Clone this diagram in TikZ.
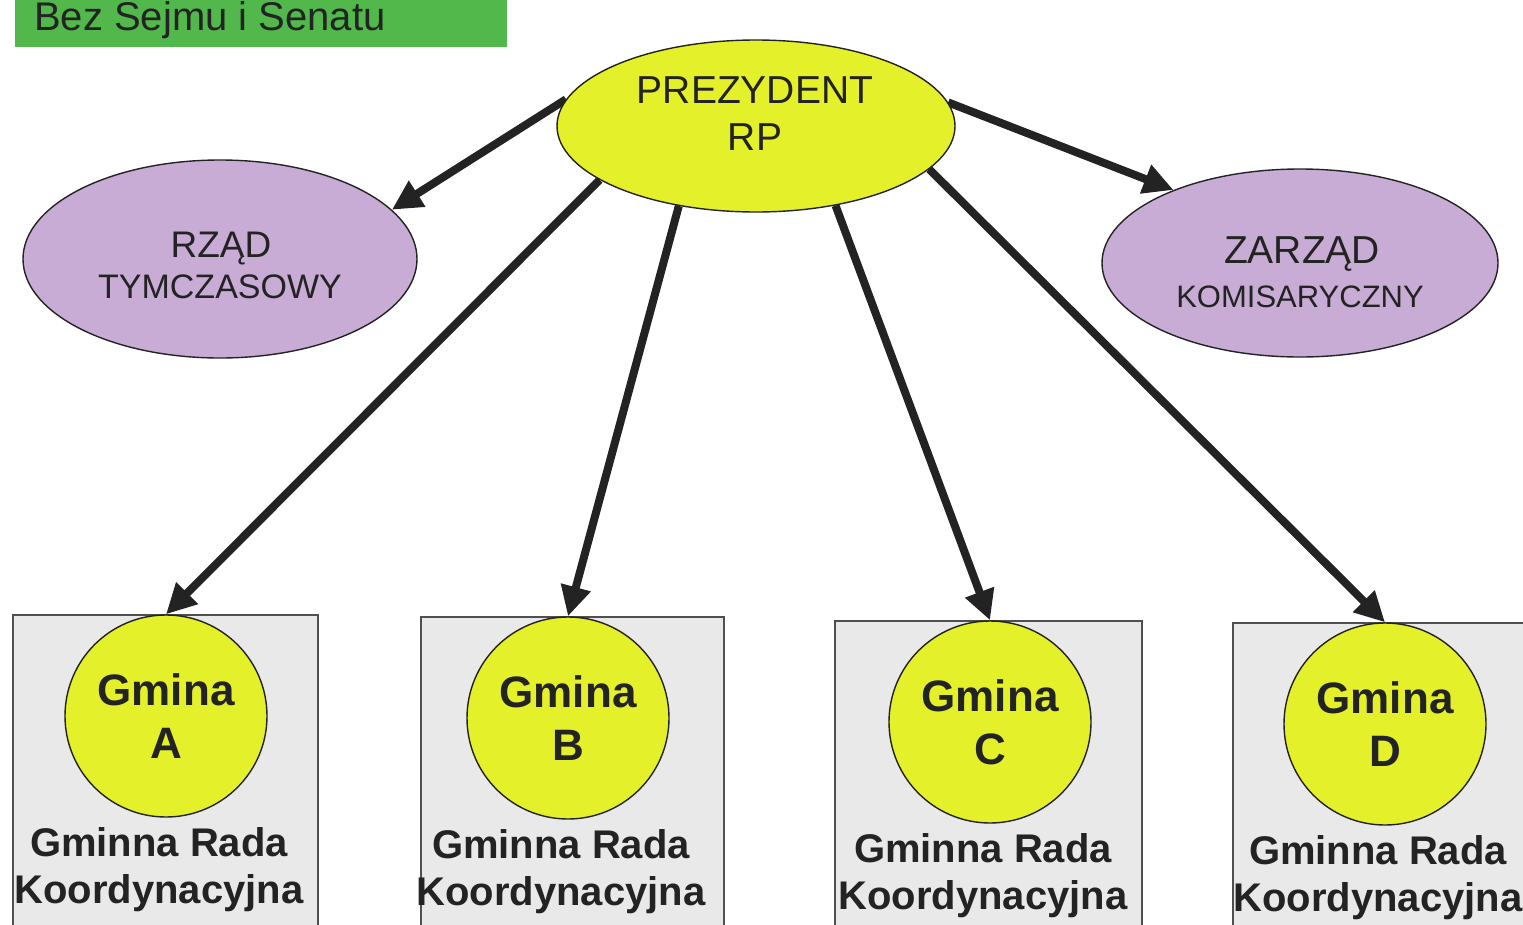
\documentclass[tikz,border=0pt]{standalone}
\usepackage{fontspec}
\setmainfont{Liberation Sans}
\usetikzlibrary{shapes.geometric,arrows.meta,backgrounds}
\definecolor{grn}{RGB}{82,184,76}
\definecolor{ylw}{RGB}{228,240,42}
\definecolor{prp}{RGB}{201,172,214}
\definecolor{gry}{RGB}{233,233,233}
\definecolor{ink}{RGB}{35,35,35}
\tikzset{
  ell/.style={ellipse, draw=ink, line width=1.4pt, inner sep=0pt},
  yell/.style={ell, fill=ylw},
  purp/.style={ell, fill=prp},
  gbox/.style={rectangle, draw=ink!80, line width=1.2pt, fill=gry, inner sep=0pt},
  gcirc/.style={circle, draw=ink, line width=1.4pt, fill=ylw, minimum size=202pt, inner sep=0pt},
  txt/.style={anchor=base, inner sep=0pt, text=ink},
  arr/.style={draw=ink, line width=8pt, -{Triangle[length=30pt,width=29pt]}},
}
\begin{document}
\begin{tikzpicture}[x=1pt,y=-1pt]
\useasboundingbox (0,0) rectangle (1523,924);
% title box
\node[rectangle, fill=grn, inner sep=0pt, minimum width=492pt, minimum height=57pt] (title) at (261,18.5) {};
\node[txt, anchor=base west, font=\fontsize{40}{46}\selectfont] (titletxt) at (34,30) {Bez Sejmu i Senatu};
% ellipses
\node[yell, minimum width=398pt, minimum height=172pt] (P) at (756,126) {};
\node[txt, font=\fontsize{39}{47}\selectfont] (P1) at (755,103) {PREZYDENT};
\node[txt, font=\fontsize{39}{47}\selectfont] (P2) at (755,150) {RP};
\node[purp, minimum width=394pt, minimum height=198pt] (R) at (220,259) {};
\node[txt, font=\fontsize{37}{44}\selectfont] (R1) at (221,257) {RZĄD};
\node[txt, font=\fontsize{34}{40}\selectfont] (R2) at (220,298) {TYMCZASOWY};
\node[purp, minimum width=396pt, minimum height=188pt] (Z) at (1300,263) {};
\node[txt, font=\fontsize{39}{47}\selectfont] (Z1) at (1302,263) {ZARZĄD};
\node[txt, font=\fontsize{31}{37}\selectfont] (Z2) at (1300,307) {KOMISARYCZNY};
% gminy
\foreach \n/\bl/\br/\bt/\cx in {A/13/318/615/166, B/421/724/617/568, C/835/1142/621/990, D/1233/1540/623/1385}{
  \node[gbox, minimum width={(\br-\bl)*1pt}, minimum height={(935-\bt)*1pt}] (box\n) at ({(\bl+\br)/2},{(\bt+935)/2}) {};
  \node[gcirc] (g\n) at (\cx,{\bt+101}) {};
  \node[txt, font=\bfseries\fontsize{44}{50}\selectfont] (gm\n) at (\cx,{\bt+90}) {Gmina};
  \node[txt, font=\bfseries\fontsize{44}{50}\selectfont] (gl\n) at (\cx,{\bt+143}) {\n};
  \node[txt, font=\bfseries\fontsize{40}{46}\selectfont] (gr\n) at ({\cx-7},{\bt+241}) {Gminna Rada};
  \node[txt, font=\bfseries\fontsize{40}{46}\selectfont] (gk\n) at ({\cx-7},{\bt+288}) {Koordynacyjna};
}
% arrows
\begin{scope}[on background layer]
\draw[arr] (P.172) -- (R.16);
\draw[arr] (P.7) -- (Z.150);
\draw[arr] (P.199) -- (gA.north);
\draw[arr] (P.226) -- (gB.north);
\draw[arr] (P.315) -- (gC.north);
\draw[arr] (P.346) -- (gD.north);
\end{scope}
\end{tikzpicture}
\end{document}
